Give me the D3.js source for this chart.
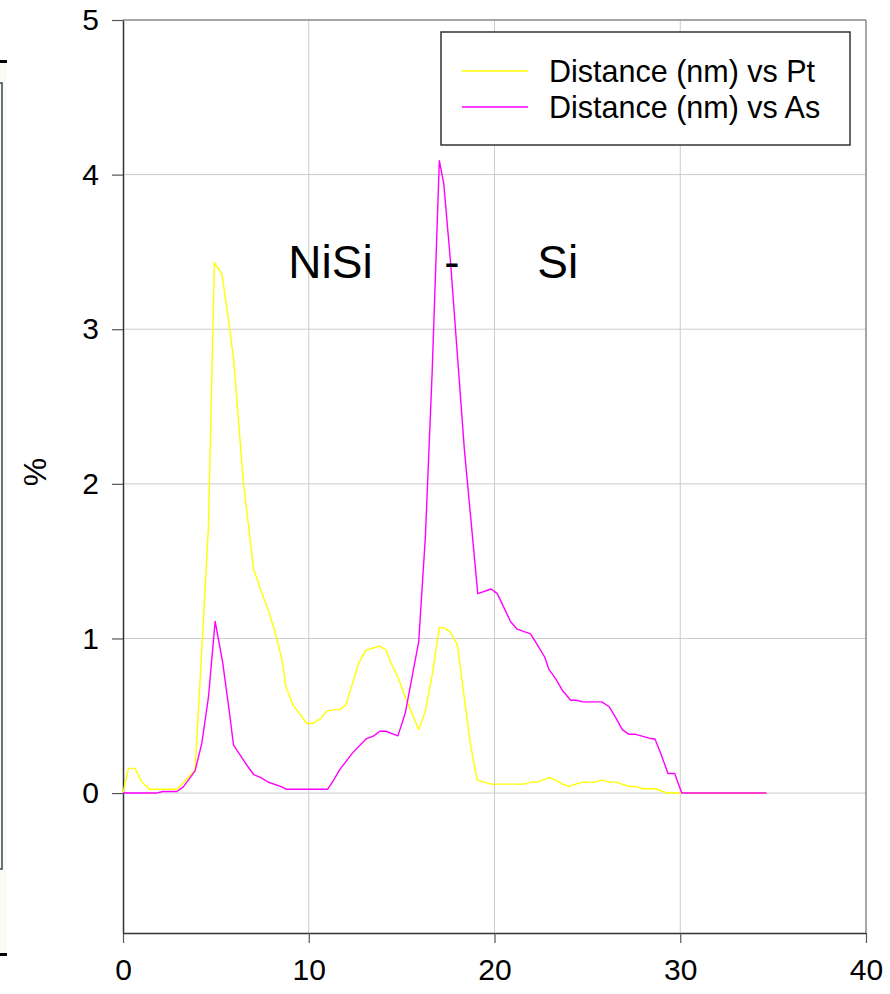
<!DOCTYPE html>
<html>
<head>
<meta charset="utf-8">
<script src="https://cdnjs.cloudflare.com/ajax/libs/d3/7.8.5/d3.min.js"></script>
<style>
body{margin:0;background:#fff;}
svg{display:block;}
text{font-family:"Liberation Sans",Arial,sans-serif;fill:#000;}
</style>
</head>
<body>
<div id="chart"></div>
<script>
// Pt profile (distance nm, %)
let ptDist=[0,0.29,0.65,1.0,1.42,2.9,3.2,3.88,4.24,4.6,4.92,5.32,5.73,5.95,6.49,7.03,7.4,7.83,8.19,8.55,8.77,9.15,9.9,10.22,10.62,10.98,11.34,11.66,12.0,12.33,12.69,13.08,13.82,14.16,14.43,14.8,15.2,15.92,16.28,16.64,17.03,17.27,17.63,18.0,18.7,19.07,19.8,21.58,21.94,22.3,22.93,23.29,23.68,24.0,24.37,24.76,25.41,25.77,26.16,26.52,27.24,27.6,27.99,28.68,29.3,34.64];
let ptVal=[0,0.16,0.16,0.073,0.025,0.025,0.06,0.15,0.925,1.72,3.43,3.36,3.02,2.81,2.0,1.45,1.32,1.18,1.04,0.87,0.69,0.57,0.45,0.45,0.48,0.53,0.54,0.54,0.57,0.70,0.84,0.925,0.95,0.925,0.84,0.75,0.62,0.41,0.53,0.76,1.07,1.07,1.04,0.96,0.32,0.084,0.058,0.058,0.071,0.071,0.1,0.084,0.056,0.043,0.058,0.071,0.071,0.084,0.071,0.071,0.043,0.043,0.028,0.028,0,0];

// As profile
let asDist=[0,1.78,2.14,2.9,3.25,3.88,4.24,4.6,4.96,5.36,5.71,5.95,6.31,6.67,7.03,7.42,7.83,8.55,8.77,11.02,11.34,11.66,12.36,13.08,13.5,13.82,14.16,14.8,15.2,15.92,16.28,16.64,17.03,17.27,17.63,17.9,18.38,19.1,19.82,20.15,20.86,21.22,21.94,22.3,22.7,22.93,23.29,23.68,24.1,24.4,24.76,25.77,26.16,26.52,26.88,27.24,27.6,28.32,28.64,29.0,29.34,29.7,30.08,34.64];
let asVal=[0,0,0.01,0.01,0.04,0.144,0.32,0.62,1.11,0.85,0.54,0.31,0.246,0.18,0.12,0.1,0.07,0.04,0.025,0.025,0.084,0.15,0.26,0.35,0.37,0.40,0.40,0.37,0.52,0.98,1.66,2.71,4.09,3.94,3.44,3.0,2.22,1.29,1.32,1.29,1.11,1.06,1.03,0.96,0.88,0.80,0.74,0.66,0.60,0.60,0.59,0.59,0.56,0.49,0.41,0.38,0.38,0.355,0.35,0.24,0.127,0.127,0,0];

let xTicks=[0,10,20,30,40];
let yTicks=[0,1,2,3,4,5];
let seriesNames=["Distance (nm) vs Pt","Distance (nm) vs As"];
let seriesColors=["#ffff00","#ff00ff"];
let notes=[{text:"NiSi",x:8.9},{text:"-",x:17.3},{text:"Si",x:22.3}];

let width=890;
let height=994;
let pLeft=123, pRight=866, pTop=20, pBottom=933;

let chart=d3.select("#chart")
.append("svg")
.attr("width",width)
.attr("height",height);

// piece of the neighbouring panel on the far left
chart.append("rect").attr("x",0).attr("y",62).attr("width",7).attr("height",892).attr("fill","#fbfbf2");
chart.append("rect").attr("x",0).attr("y",60).attr("width",7).attr("height",3).attr("fill","#000");
chart.append("rect").attr("x",0).attr("y",953).attr("width",7).attr("height",3).attr("fill","#000");
chart.append("rect").attr("x",-10).attr("y",83).attr("width",12).attr("height",786)
.attr("fill","none").attr("stroke","#34495a").attr("stroke-width",1.5);

let xscale=d3.scaleLinear().domain([0,40]).range([pLeft,pRight]);
let yscale=d3.scaleLinear().domain([-0.905,5]).range([pBottom,pTop]);

// grid
chart.selectAll(".vgrid")
.data(xTicks.slice(1,4))
.enter()
.append("line")
.attr("x1",function(d){return xscale(d);})
.attr("x2",function(d){return xscale(d);})
.attr("y1",pTop).attr("y2",pBottom)
.attr("stroke","#cccccc").attr("stroke-width",1);

chart.selectAll(".hgrid")
.data(yTicks.slice(0,5))
.enter()
.append("line")
.attr("x1",pLeft).attr("x2",pRight)
.attr("y1",function(d){return yscale(d);})
.attr("y2",function(d){return yscale(d);})
.attr("stroke","#cccccc").attr("stroke-width",1);

// frame top and right
chart.append("line").attr("x1",pLeft).attr("x2",pRight).attr("y1",pTop).attr("y2",pTop)
.attr("stroke","#888").attr("stroke-width",1.5);
chart.append("line").attr("x1",pRight).attr("x2",pRight).attr("y1",pTop).attr("y2",pBottom)
.attr("stroke","#888").attr("stroke-width",1.5);

let xAxis=d3.axisBottom(xscale).tickValues(xTicks).tickSize(10).tickPadding(16).tickSizeOuter(0);
let yAxis=d3.axisLeft(yscale).tickValues(yTicks).tickFormat(d3.format("d")).tickSize(11).tickPadding(13).tickSizeOuter(0);

let gx=chart.append("g")
.attr("class","xaxis")
.attr("transform","translate(0,"+pBottom+")")
.call(xAxis);
let gy=chart.append("g")
.attr("class","yaxis")
.attr("transform","translate("+pLeft+",0)")
.call(yAxis);

[gx,gy].forEach(function(g){
  g.select(".domain").attr("stroke","#333").attr("stroke-width",1.5);
  g.selectAll(".tick line").attr("stroke","#555").attr("stroke-width",1.2);
  g.selectAll(".tick text").attr("font-size",30).attr("font-family","Liberation Sans, Arial, sans-serif").attr("fill","#000");
});

chart.append("text")
.text("%")
.attr("transform","translate(46,472) rotate(-90)")
.attr("text-anchor","middle")
.attr("font-size",32);

// series
let line=d3.line()
.x(function(d){return xscale(d[0]);})
.y(function(d){return yscale(d[1]);});

let ptData=ptDist.map(function(d,i){return [d,ptVal[i]];});
let asData=asDist.map(function(d,i){return [d,asVal[i]];});

[ptData,asData].forEach(function(data,i){
  chart.append("path")
  .datum(data)
  .attr("d",line)
  .attr("fill","none")
  .attr("stroke",seriesColors[i])
  .attr("stroke-width",1.4)
  .attr("stroke-linejoin","round");
});

// annotations
chart.selectAll(".note")
.data(notes)
.enter()
.append("text")
.text(function(d){return d.text;})
.attr("x",function(d){return xscale(d.x);})
.attr("y",278)
.attr("font-size",46);

// legend
let legend=chart.append("g").attr("transform","translate(441,32)");
legend.append("rect")
.attr("width",409).attr("height",113)
.attr("fill","#fff").attr("stroke","#333").attr("stroke-width",1.5);
seriesNames.forEach(function(name,i){
  let ly=39+i*36;
  legend.append("line")
  .attr("x1",21).attr("x2",87).attr("y1",ly).attr("y2",ly)
  .attr("stroke",seriesColors[i]).attr("stroke-width",1.4);
  legend.append("text")
  .text(name)
  .attr("x",108).attr("y",ly+11)
  .attr("font-size",30.5);
});
</script>
</body>
</html>
